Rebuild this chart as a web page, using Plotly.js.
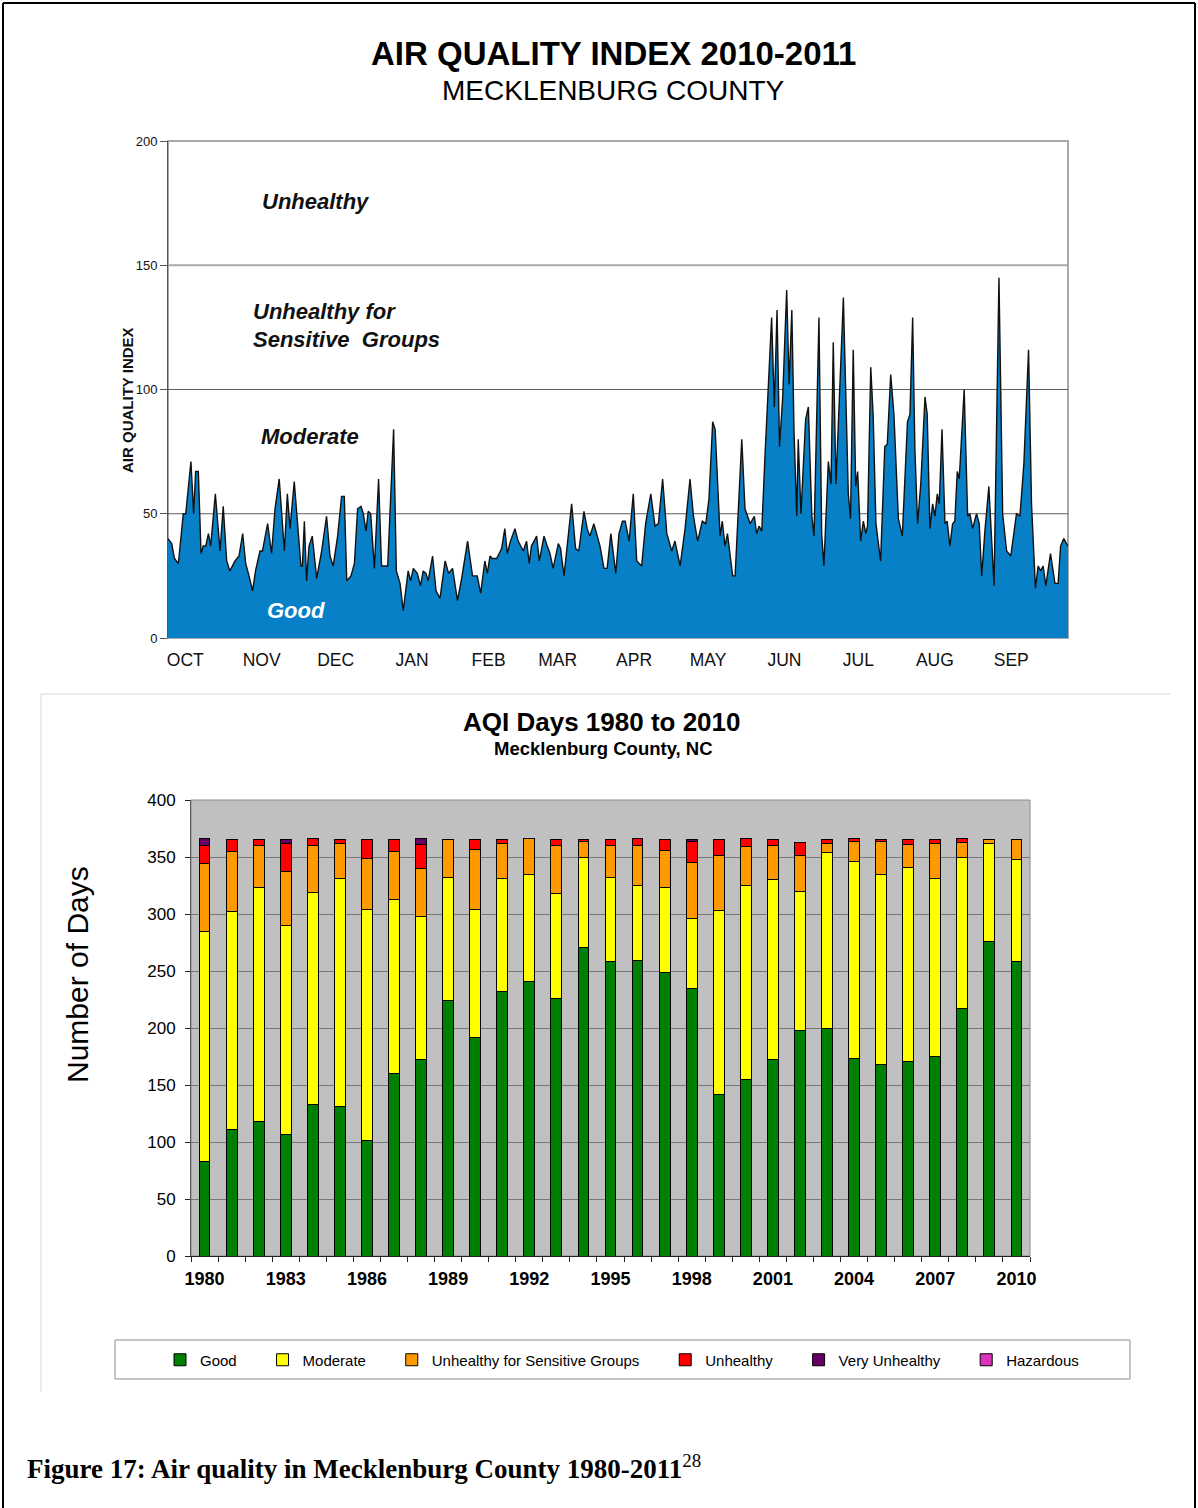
<!DOCTYPE html>
<html><head><meta charset="utf-8">
<script src="https://cdn.plot.ly/plotly-3.0.1.min.js"></script>
<style>html,body{margin:0;padding:0;background:#fff}#chart{width:1198px;height:1508px}</style>
</head><body><div id="chart"></div>
<script>
// ---------- Top chart: daily AQI Oct 2010 - Sep 2011 (day index from Oct 1) ----------
const months = ['OCT','NOV','DEC','JAN','FEB','MAR','APR','MAY','JUN','JUL','AUG','SEP'];
const monthStartDay = [0,31,61,92,123,151,182,212,243,273,304,335];
const aqiTicks = [0,50,100,150,200];

const aqiDay = [0,1.5,2.6,4.2,6.2,7.2,9.3,10.4,11.2,12.3,13.4,14.3,15.3,16.4,17.3,19.2,21.1,22.4,23.8,25.1,27.2,28.8,30.3,31.5,32.6,34.3,35.5,37.3,38.3,40.4,42,43.4,45.1,47.2,48.4,49.5,51.2,52.6,53.9,54.5,55.3,56.2,57.2,58.5,60.3,62.3,64.3,65.7,67,68.8,70.4,71.5,72.5,74.2,75.6,76.9,78.3,79.2,80.3,81.2,82.2,83.7,85.4,86.6,88,89.1,91.5,
92.6,94.1,95.4,97.4,98.4,99.5,101.1,102.4,103.5,104.6,105.5,107.3,108.7,110.3,112.4,113.8,115.4,117.4,119.1,121.5,123.5,125.4,126.8,128.5,129.5,130.6,131.5,133.3,134.6,135.3,136.6,137.6,138.9,140.7,142,144.1,145.4,146.5,147.4,149.5,150.6,152.5,153.8,154.9,156.2,158.3,159.2,160.6,163.7,165.3,166.6,168.7,170,171.1,172.7,173.8,175.2,176.8,178.1,179.6,181.6,
182.9,184.3,185.4,187,188.7,190.1,192.1,193.7,195.8,197.5,198.9,200.6,202.3,204.3,205.6,207.7,209.7,211.7,213.1,214.8,216.7,218.1,219.4,220.9,221.9,223.2,223.9,224.8,225.9,226.9,229,230,231.3,232.7,234,236.1,237.8,238.7,239.7,240.8,242.1,243.5,244.8,245.9,247,248,249.3,250.9,251.9,253,253.9,255,255.6,256.7,258.6,259.7,261.1,262,264,265.1,266,267.8,268.9,269.8,270.9,273.9,
275.9,276.8,277.9,278.9,279.7,280.9,282,283,283.7,285,286,287.1,289,290.7,291.7,293.1,294.4,296.2,297.8,299.9,300.9,302,302.9,304,305.3,307,307.9,309,310.1,311,312,312.8,313.9,315.1,316,317.1,318.2,319.1,320.1,320.9,322.9,324.3,325.2,326.3,327.9,329,330,331.3,332.9,335,337,338.5,340.1,341.8,344.1,345.5,347.1,349,350.2,351.8,352.9,353.9,354.9,356,357.9,359.7,361,362,363.3,364.4,365];

const aqiValue = [40,38,32,30,50,50,71,50,67,67,34,37,37,42,37,58,35,53,31,27,31,33,42,30,26,19,27,35,35,46,34,52,64,35,58,44,63,45,29,29,47,23,37,41,24,35,49,33,29,41,57,57,23,25,30,52,53,50,43,51,50,28,64,29,29,29,84,
27,22,11,27,23,28,26,21,27,26,23,33,19,16,31,26,28,15,24,39,25,25,18,31,26,33,32,32,35,36,44,34,39,44,39,35,39,30,37,41,31,41,37,34,28,38,36,25,54,36,35,51,44,41,46,42,37,28,28,42,26,
42,47,47,39,58,31,29,46,58,45,46,64,42,35,39,29,44,64,49,39,47,46,56,87,84,56,41,47,37,42,25,25,49,80,52,46,49,42,45,43,73,105,129,93,132,77,97,140,102,132,83,49,80,50,88,93,49,41,129,42,29,71,62,119,62,137,
58,48,116,61,67,39,47,42,45,109,89,46,31,77,78,106,90,48,41,87,90,129,76,46,62,97,90,44,54,49,58,54,84,46,47,37,46,47,67,64,100,49,50,44,50,46,25,43,61,21,145,50,35,33,50,49,70,116,54,20,29,27,29,21,34,22,22,37,40,38,37];

// ---------- Bottom chart: AQI days per year ----------
const years = [1980,1981,1982,1983,1984,1985,1986,1987,1988,1989,1990,1991,1992,1993,1994,1995,1996,1997,1998,1999,2000,2001,2002,2003,2004,2005,2006,2007,2008,2009,2010];
const good      = [83,111,118,107,133,131,101,160,172,224,192,232,241,226,271,258,259,249,235,142,155,172,198,200,173,168,171,175,217,276,258];
const moderate  = [202,191,205,183,186,200,203,153,126,108,112,99,94,92,79,74,66,74,61,161,170,158,122,154,173,167,170,156,133,86,90];
const usg       = [59,53,37,47,41,31,45,42,42,33,53,31,31,42,14,28,35,33,49,48,34,30,31,8,18,29,20,31,13,3,17];
const unhealthy = [16,10,5,25,6,3,16,10,21,0,8,3,0,5,1,5,6,9,19,14,7,5,12,3,2,1,4,3,3,0,0];
const veryUnhealthy = [6,0,0,3,0,0,0,0,5,0,0,0,0,0,0,0,0,0,1,0,0,0,0,0,0,0,0,0,0,0,0];
const hazardous = [0,0,0,0,0,0,0,0,0,0,0,0,0,0,0,0,0,0,0,0,0,0,0,0,0,0,0,0,0,0,0];
const categoryNames = ['Good','Moderate','Unhealthy for Sensitive Groups','Unhealthy','Very Unhealthy','Hazardous'];
const daysTicks = [0,50,100,150,200,250,300,350,400];

// ---------- layout helpers ----------
const W = 1198, H = 1508;
const px = x => x / W, py = y => 1 - y / H;
const SANS = 'Liberation Sans, Arial, sans-serif';
const colors = ['#008000','#FFFF00','#FF9900','#FF0000','#660066','#DD33BB'];
const seriesVals = [good, moderate, usg, unhealthy, veryUnhealthy, hazardous];
const legendPad = '\u00a0\u00a0\u00a0\u00a0\u00a0';

const traces = [{
  type:'scatter', mode:'lines', x:aqiDay, y:aqiValue, fill:'tozeroy',
  fillcolor:'#0880C8', line:{color:'#111', width:1.4},
  xaxis:'x', yaxis:'y', showlegend:false, name:'AQI'
}];
seriesVals.forEach((vals, i) => {
  traces.push({
    type:'bar', name:categoryNames[i] + (i < seriesVals.length - 1 ? legendPad : ''), x:years, y:vals, width:0.4,
    marker:{color:colors[i], line:{color:'#000', width:1}},
    xaxis:'x2', yaxis:'y2'
  });
});

const ann = (text, x, y, opts) => Object.assign({
  text, x:px(x), y:py(y), xref:'paper', yref:'paper', showarrow:false,
  xanchor:'center', yanchor:'middle', font:{family:SANS, size:16, color:'#000'}
}, opts || {});

const hline = (xref, yref, y, color, width) => ({type:'line', xref, yref, x0:0, x1:1, y0:y, y1:y, layer:'below', line:{color, width}});

const shapes = [
  // page frame
  {type:'line', xref:'paper', yref:'paper', x0:px(3), x1:px(1195), y0:py(3), y1:py(3), line:{color:'#000', width:2}},
  {type:'line', xref:'paper', yref:'paper', x0:px(3), x1:px(3), y0:py(3), y1:py(1508), line:{color:'#000', width:2}},
  {type:'line', xref:'paper', yref:'paper', x0:px(1195), x1:px(1195), y0:py(3), y1:py(1508), line:{color:'#000', width:2}},
  // bottom chart container edges
  {type:'line', xref:'paper', yref:'paper', x0:px(41), x1:px(1170), y0:py(694), y1:py(694), line:{color:'#d9d9d9', width:1}},
  {type:'line', xref:'paper', yref:'paper', x0:px(41), x1:px(41), y0:py(694), y1:py(1392), line:{color:'#d9d9d9', width:1}},
  // top plot frame
  {type:'rect', xref:'x domain', yref:'y domain', x0:0, x1:1, y0:0, y1:1, layer:'below', line:{color:'#a8a8a8', width:2}},
  // bottom plot background
  {type:'rect', xref:'x2 domain', yref:'y2 domain', x0:0, x1:1, y0:0, y1:1, layer:'below', fillcolor:'#C0C0C0', line:{color:'#8c8c8c', width:1}},
  // legend box
  {type:'rect', xref:'paper', yref:'paper', x0:px(115), x1:px(1130), y0:py(1340), y1:py(1379), line:{color:'#8c8c8c', width:1}}
];
// top chart band lines
aqiTicks.slice(1, -1).forEach(v => {
  shapes.push(hline('x domain', 'y', v, v === 150 ? '#a8a8a8' : '#5e5e5e', v === 150 ? 2 : 1));
});

const layout = {
  width:W, height:H, margin:{l:0,r:0,t:0,b:0},
  paper_bgcolor:'#fff', plot_bgcolor:'rgba(0,0,0,0)',
  font:{family:SANS, color:'#000'},
  barmode:'stack', showlegend:true,
  xaxis:{domain:[px(168),px(1068)], range:[0,365], anchor:'y',
    tickmode:'array', tickvals:monthStartDay.map(d => d + 7), ticktext:months,
    ticks:'outside', ticklen:6, tickcolor:'rgba(0,0,0,0)', showgrid:false, zeroline:false, showline:false,
    tickfont:{size:17.5, family:SANS, color:'#111'}},
  yaxis:{domain:[py(638),py(141)], range:[0,200], anchor:'x',
    tickmode:'array', tickvals:aqiTicks, ticks:'outside', ticklen:7, tickcolor:'#555',
    showline:true, linecolor:'#555', linewidth:1,
    showgrid:false, zeroline:false,
    tickfont:{size:13, family:SANS, color:'#111'}},
  xaxis2:{domain:[px(191),px(1030)], range:[1979.5,2010.5], anchor:'y2',
    tickmode:'array', tickvals:years.filter((y,i) => i % 3 === 0),
    ticks:'', showgrid:false, zeroline:false, showline:true, linecolor:'#222', linewidth:1,
    ticklabelstandoff:6,
    minor:{tickmode:'linear', tick0:1979.5, dtick:1, ticks:'outside', ticklen:5, tickcolor:'#222', showgrid:false},
    tickfont:{size:18, family:SANS, color:'#000', weight:'bold'}},
  yaxis2:{domain:[py(1256),py(800)], range:[0,400], anchor:'x2',
    tickmode:'array', tickvals:daysTicks, ticks:'outside', ticklen:5, tickcolor:'#222',
    ticklabelstandoff:6,
    showline:true, linecolor:'#555', linewidth:1,
    showgrid:true, gridcolor:'#777', gridwidth:1, zeroline:false,
    tickfont:{size:17, family:SANS, color:'#000'}},
  legend:{orientation:'h', x:px(622), xanchor:'center', y:py(1360), yanchor:'middle',
    font:{family:SANS, size:15, color:'#000'}, bgcolor:'rgba(0,0,0,0)', borderwidth:0,
    traceorder:'normal', itemwidth:30},
  shapes,
  annotations:[
    ann('<b>AIR QUALITY INDEX 2010-2011</b>', 614, 53, {font:{family:SANS, size:33, color:'#000'}}),
    ann('MECKLENBURG COUNTY', 614, 90, {font:{family:SANS, size:28, color:'#000'}}),
    ann('<b>AIR QUALITY INDEX</b>', 127, 400, {textangle:-90, font:{family:SANS, size:15, color:'#111'}}),
    ann('<b><i>Unhealthy</i></b>', 260, 201, {xanchor:'left', font:{family:SANS, size:22, color:'#111'}}),
    ann('<b><i>Unhealthy for</i></b>', 251, 311, {xanchor:'left', font:{family:SANS, size:22, color:'#111'}}),
    ann('<b><i>Sensitive  Groups</i></b>', 251, 339, {xanchor:'left', font:{family:SANS, size:22, color:'#111'}}),
    ann('<b><i>Moderate</i></b>', 259, 437, {xanchor:'left', font:{family:SANS, size:22, color:'#111'}}),
    ann('<b><i>Good</i></b>', 265, 610, {xanchor:'left', font:{family:SANS, size:22, color:'#ffffff'}}),
    ann('<b>AQI Days 1980 to 2010</b>', 602, 722, {font:{family:SANS, size:26, color:'#000'}}),
    ann('<b>Mecklenburg County, NC</b>', 603, 748, {font:{family:SANS, size:18.5, color:'#000'}}),
    ann('Number of Days', 77, 975, {textangle:-90, font:{family:SANS, size:30, color:'#000'}}),
    ann('<b>Figure 17: Air quality in Mecklenburg County 1980-2011</b><sup>28</sup>', 25, 1467, {xanchor:'left', font:{family:'Liberation Serif, Times New Roman, serif', size:27, color:'#000'}})
  ]
};

Plotly.newPlot('chart', traces, layout, {displayModeBar:false, staticPlot:true});
</script></body></html>
